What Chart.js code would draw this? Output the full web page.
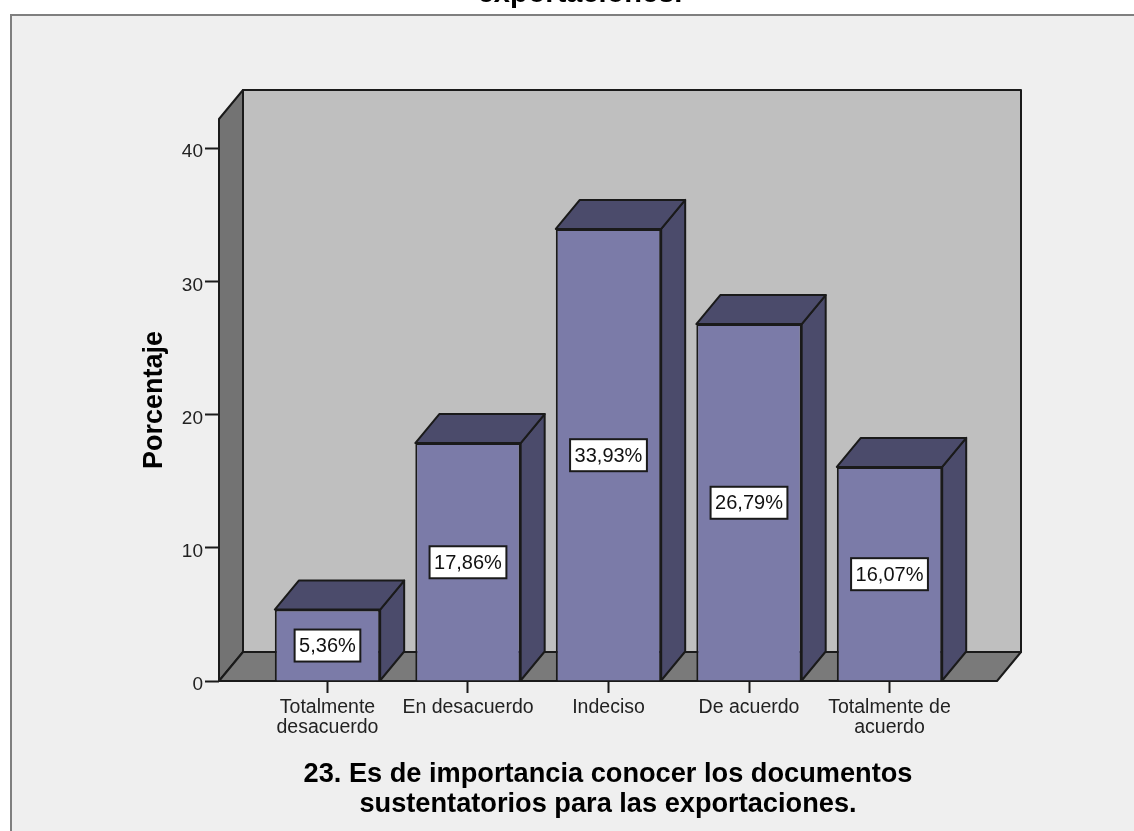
<!DOCTYPE html>
<html>
<head>
<meta charset="utf-8">
<title>Documentos sustentatorios</title>
<script src="https://cdn.jsdelivr.net/npm/chart.js@4/dist/chart.umd.min.js"></script>
<style>
html, body { margin: 0; padding: 0; background: #fff; overflow: hidden; }
#wrap { width: 1134px; height: 831px; }
</style>
</head>
<body>
<div id="wrap"><canvas id="barChart" width="1134" height="831"></canvas></div>
<script>
var categories = [['Totalmente', 'desacuerdo'], 'En desacuerdo', 'Indeciso', 'De acuerdo', ['Totalmente de', 'acuerdo']];
var percentages = [5.36, 17.86, 33.93, 26.79, 16.07];
var yTicks = [0, 10, 20, 30, 40];
var xTitle = ['23. Es de importancia conocer los documentos', 'sustentatorios para las exportaciones.'];
var yTitle = 'Porcentaje';
var clippedTitle = 'exportaciones.';

var FONT = '"Liberation Sans", Arial, sans-serif';
var DX = 24, DY = -29;   // depth of the 3D box
var INK = '#1a1a1a';

function poly(ctx, pts, fill) {
    ctx.beginPath();
    ctx.moveTo(pts[0][0], pts[0][1]);
    for (var i = 1; i < pts.length; i++) ctx.lineTo(pts[i][0], pts[i][1]);
    ctx.closePath();
    ctx.fillStyle = fill;
    ctx.fill();
    ctx.lineWidth = 2;
    ctx.strokeStyle = INK;
    ctx.lineJoin = 'round';
    ctx.stroke();
}

// frame, back wall, side wall and floor go under the bars
var boxPlugin = {
    id: 'box3d',
    beforeDraw: function(chart) {
        var ctx = chart.ctx, w = chart.width, h = chart.height;
        ctx.save();
        ctx.fillStyle = '#efefef';
        ctx.fillRect(10, 15, w - 10, h - 15);
        ctx.strokeStyle = '#7f7f7f';
        ctx.lineWidth = 2;
        ctx.beginPath();
        ctx.moveTo(11, h);
        ctx.lineTo(11, 15);
        ctx.lineTo(w, 15);
        ctx.stroke();
        ctx.font = 'bold 29px ' + FONT;
        ctx.fillStyle = '#000';
        ctx.textAlign = 'center';
        ctx.textBaseline = 'alphabetic';
        ctx.fillText(clippedTitle, 580, 2);
        ctx.restore();
    },
    beforeDatasetsDraw: function(chart) {
        var ctx = chart.ctx, a = chart.chartArea;
        ctx.save();
        poly(ctx, [[a.left + DX, a.top + DY], [a.right + DX, a.top + DY], [a.right + DX, a.bottom + DY], [a.left + DX, a.bottom + DY]], '#bfbfbf');
        poly(ctx, [[a.left, a.top], [a.left + DX, a.top + DY], [a.left + DX, a.bottom + DY], [a.left, a.bottom]], '#737373');
        poly(ctx, [[a.left, a.bottom], [a.left + DX, a.bottom + DY], [a.right + DX, a.bottom + DY], [a.right, a.bottom]], '#7a7a7a');
        // side and top faces of each bar
        chart.getDatasetMeta(0).data.forEach(function(bar) {
            var l = bar.x - bar.width / 2, r = bar.x + bar.width / 2;
            poly(ctx, [[r, bar.y], [r + DX, bar.y + DY], [r + DX, bar.base + DY], [r, bar.base]], '#4b4b6b');
            poly(ctx, [[l, bar.y], [l + DX, bar.y + DY], [r + DX, bar.y + DY], [r, bar.y]], '#4b4b6b');
        });
        ctx.restore();
    },
    afterDatasetsDraw: function(chart) {
        var ctx = chart.ctx;
        ctx.save();
        ctx.font = '20px ' + FONT;
        ctx.textAlign = 'center';
        ctx.textBaseline = 'middle';
        chart.getDatasetMeta(0).data.forEach(function(bar, i) {
            var text = percentages[i].toFixed(2).replace('.', ',') + '%';
            var tw = ctx.measureText(text).width + 9;
            var cy = (bar.y + bar.base) / 2 + 0.5;
            ctx.fillStyle = '#fff';
            ctx.strokeStyle = INK;
            ctx.lineWidth = 2;
            ctx.fillRect(bar.x - tw / 2, cy - 16, tw, 32);
            ctx.strokeRect(bar.x - tw / 2, cy - 16, tw, 32);
            ctx.fillStyle = '#111';
            ctx.fillText(text, bar.x, cy + 1);
        });
        ctx.restore();
    }
};

var ctx = document.getElementById('barChart').getContext('2d');
var chart = new Chart(ctx, {
    type: 'bar',
    data: {
        datasets: [{
            data: percentages.map(function(v, i) { return { x: i, y: v }; }),
            backgroundColor: '#7b7ba8',
            borderColor: INK,
            borderWidth: 2,
            barPercentage: 0.75,
            categoryPercentage: 1
        }]
    },
    plugins: [boxPlugin],
    options: {
        responsive: false,
        animation: false,
        layout: { padding: { left: 0, right: 137, top: 119, bottom: 0 } },
        plugins: { legend: { display: false }, tooltip: { enabled: false } },
        scales: {
            x: {
                type: 'linear',
                offset: false,
                min: -0.772,
                max: 4.765,
                afterBuildTicks: function(axis) {
                    axis.ticks = categories.map(function(c, i) { return { value: i }; });
                },
                afterFit: function(axis) { axis.height = 150; },
                grid: { drawOnChartArea: false, tickLength: 12, tickColor: INK, tickWidth: 2, offset: false },
                border: { display: false },
                ticks: {
                    autoSkip: false,
                    maxRotation: 0,
                    padding: 5,
                    color: '#222',
                    font: { family: FONT, size: 19.5, lineHeight: 1 },
                    callback: function(v) { return categories[v]; }
                },
                title: {
                    display: true,
                    text: xTitle,
                    color: '#000',
                    font: { family: FONT, size: 27.2, weight: 'bold', lineHeight: 1.1 },
                    padding: { top: 12, bottom: 12 }
                }
            },
            y: {
                min: 0,
                max: 42.18,
                afterBuildTicks: function(axis) {
                    axis.ticks = yTicks.map(function(v) { return { value: v }; });
                },
                afterFit: function(axis) { axis.width = 219; },
                grid: { drawOnChartArea: false, tickLength: 14, tickColor: INK, tickWidth: 2 },
                border: { display: false },
                ticks: {
                    padding: 2,
                    labelOffset: 4,
                    color: '#222',
                    font: { family: FONT, size: 19 }
                },
                title: {
                    display: true,
                    text: yTitle,
                    color: '#000',
                    font: { family: FONT, size: 27, weight: 'bold' },
                    padding: { top: 138, bottom: 0 }
                }
            }
        }
    }
});
</script>
</body>
</html>
